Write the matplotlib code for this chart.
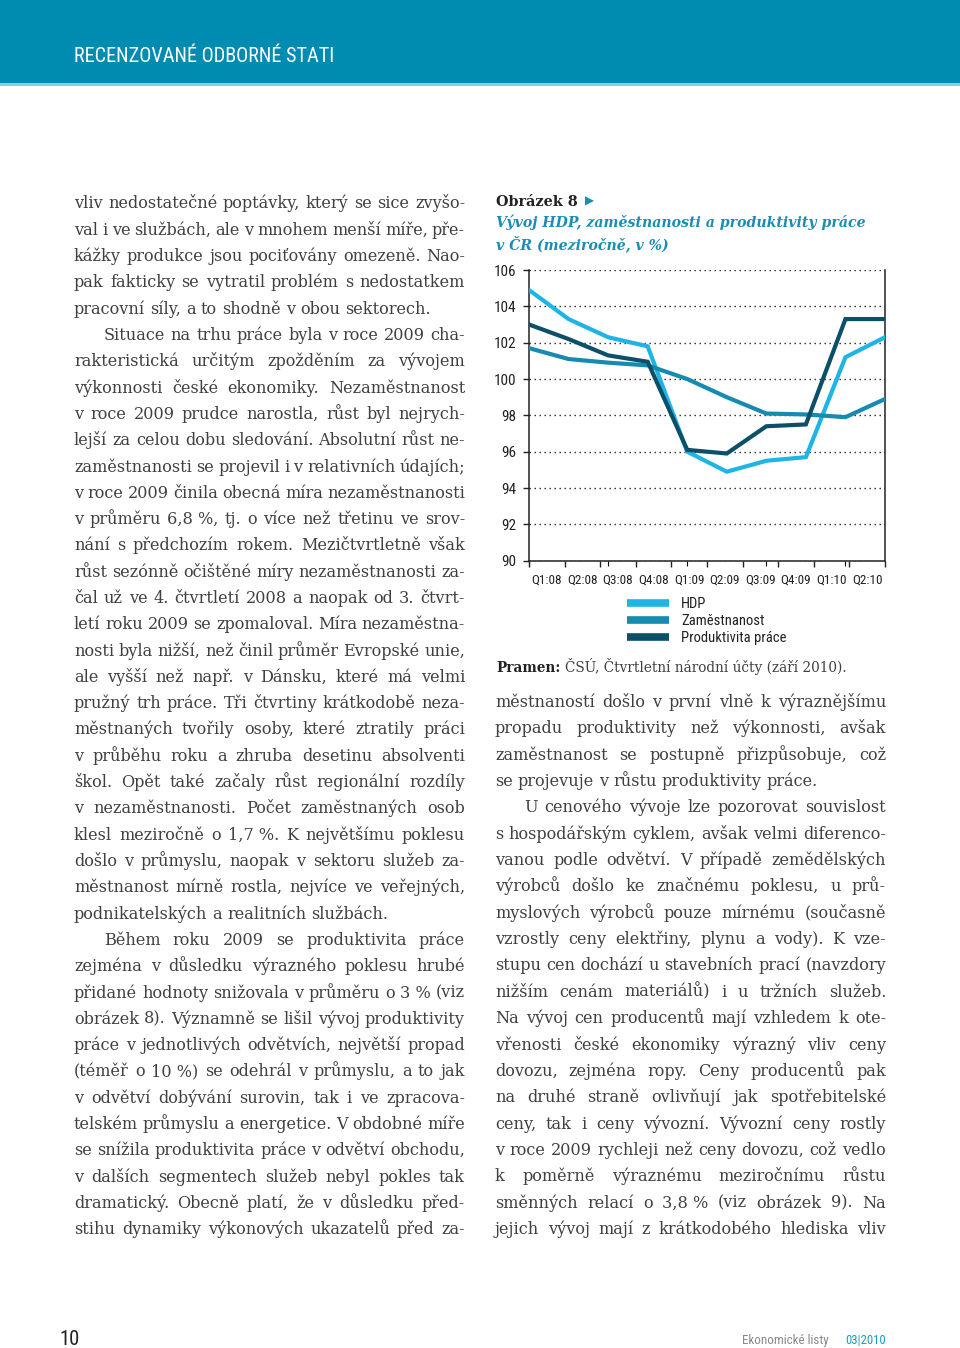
import matplotlib
matplotlib.use("Agg")
import matplotlib.pyplot as plt
import numpy as np
from matplotlib.patches import Rectangle
from matplotlib import font_manager as fm

# ---------------- data ----------------
quarters = ['Q1:08', 'Q2:08', 'Q3:08', 'Q4:08', 'Q1:09', 'Q2:09',
            'Q3:09', 'Q4:09', 'Q1:10', 'Q2:10']
hdp = [104.9, 103.3, 102.3, 101.8, 96.0, 94.9, 95.5, 95.7, 101.2, 102.3]
zamestnanost = [101.7, 101.1, 100.9, 100.75, 100.0, 99.0, 98.1, 98.05, 97.9, 98.9]
produktivita = [103.0, 102.2, 101.3, 100.95, 96.1, 95.9, 97.4, 97.5, 103.3, 103.3]
series_names = ['HDP', 'Zaměstnanost', 'Produktivita práce']
y_ticks = [90, 92, 94, 96, 98, 100, 102, 104, 106]

left_lines = [
    ("vliv nedostatečné poptávky, který se sice zvyšo-", True, 0),
    ("val i ve službách, ale v mnohem menší míře, pře-", True, 0),
    ("kážky produkce jsou pociťovány omezeně. Nao-", True, 0),
    ("pak fakticky se vytratil problém s nedostatkem", True, 0),
    ("pracovní síly, a to shodně v obou sektorech.", False, 0),
    ("Situace na trhu práce byla v roce 2009 cha-", True, 30),
    ("rakteristická určitým zpožděním za vývojem", True, 0),
    ("výkonnosti české ekonomiky. Nezaměstnanost", True, 0),
    ("v roce 2009 prudce narostla, růst byl nejrych-", True, 0),
    ("lejší za celou dobu sledování. Absolutní růst ne-", True, 0),
    ("zaměstnanosti se projevil i v relativních údajích;", True, 0),
    ("v roce 2009 činila obecná míra nezaměstnanosti", True, 0),
    ("v průměru 6,8\u00a0%, tj. o více než třetinu ve srov-", True, 0),
    ("nání s předchozím rokem. Mezičtvrtletně však", True, 0),
    ("růst sezónně očištěné míry nezaměstnanosti za-", True, 0),
    ("čal už ve 4. čtvrtletí 2008 a naopak od 3. čtvrt-", True, 0),
    ("letí roku 2009 se zpomaloval. Míra nezaměstna-", True, 0),
    ("nosti byla nižší, než činil průměr Evropské unie,", True, 0),
    ("ale vyšší než např. v Dánsku, které má velmi", True, 0),
    ("pružný trh práce. Tři čtvrtiny krátkodobě neza-", True, 0),
    ("městnaných tvořily osoby, které ztratily práci", True, 0),
    ("v průběhu roku a zhruba desetinu absolventi", True, 0),
    ("škol. Opět také začaly růst regionální rozdíly", True, 0),
    ("v nezaměstnanosti. Počet zaměstnaných osob", True, 0),
    ("klesl meziročně o 1,7\u00a0%. K největšímu poklesu", True, 0),
    ("došlo v průmyslu, naopak v sektoru služeb za-", True, 0),
    ("městnanost mírně rostla, nejvíce ve veřejných,", True, 0),
    ("podnikatelských a realitních službách.", False, 0),
    ("Během roku 2009 se produktivita práce", True, 30),
    ("zejména v důsledku výrazného poklesu hrubé", True, 0),
    ("přidané hodnoty snižovala v průměru o 3\u00a0% (viz", True, 0),
    ("obrázek 8). Významně se lišil vývoj produktivity", True, 0),
    ("práce v jednotlivých odvětvích, největší propad", True, 0),
    ("(téměř o 10\u00a0%) se odehrál v průmyslu, a to jak", True, 0),
    ("v odvětví dobývání surovin, tak i ve zpracova-", True, 0),
    ("telském průmyslu a energetice. V obdobné míře", True, 0),
    ("se snížila produktivita práce v odvětví obchodu,", True, 0),
    ("v dalších segmentech služeb nebyl pokles tak", True, 0),
    ("dramatický. Obecně platí, že v důsledku před-", True, 0),
    ("stihu dynamiky výkonových ukazatelů před za-", True, 0),
]

right_lines = [
    ("městnaností došlo v první vlně k výraznějšímu", True, 0),
    ("propadu produktivity než výkonnosti, avšak", True, 0),
    ("zaměstnanost se postupně přizpůsobuje, což", True, 0),
    ("se projevuje v růstu produktivity práce.", False, 0),
    ("U cenového vývoje lze pozorovat souvislost", True, 29),
    ("s hospodářským cyklem, avšak velmi diferenco-", True, 0),
    ("vanou podle odvětví. V případě zemědělských", True, 0),
    ("výrobců došlo ke značnému poklesu, u prů-", True, 0),
    ("myslových výrobců pouze mírnému (současně", True, 0),
    ("vzrostly ceny elektřiny, plynu a vody). K vze-", True, 0),
    ("stupu cen dochází u stavebních prací (navzdory", True, 0),
    ("nižším cenám materiálů) i u tržních služeb.", True, 0),
    ("Na vývoj cen producentů mají vzhledem k ote-", True, 0),
    ("vřenosti české ekonomiky výrazný vliv ceny", True, 0),
    ("dovozu, zejména ropy. Ceny producentů pak", True, 0),
    ("na druhé straně ovlivňují jak spotřebitelské", True, 0),
    ("ceny, tak i ceny vývozní. Vývozní ceny rostly", True, 0),
    ("v roce 2009 rychleji než ceny dovozu, což vedlo", True, 0),
    ("k poměrně výraznému meziročnímu růstu", True, 0),
    ("směnných relací o 3,8\u00a0% (viz obrázek 9). Na", True, 0),
    ("jejich vývoj mají z krátkodobého hlediska vliv", True, 0),
]

# ---------------- style ----------------
W, H = 960, 1348
try:
    fm.findfont(fm.FontProperties(family='Roboto Condensed'), fallback_to_default=False)
    NARROW = ['Roboto Condensed', 'DejaVu Sans']
    HAVE_COND = True
except Exception:
    NARROW = ['Roboto', 'DejaVu Sans']
    HAVE_COND = False
SERIF = ['DejaVu Serif']
BLUE = '#1a8db4'
C_HDP = '#1db4e6'
C_ZAM = '#168bb0'
C_PROD = '#0c4f68'
TXT = '#404040'
DARK = '#222222'

fig = plt.figure(figsize=(W / 100, H / 100), dpi=100)
fig.patch.set_facecolor('white')
renderer = fig.canvas.get_renderer()


def fx(px):
    return px / W


def fy(py):
    return 1 - py / H


def text_width(s, size, **kw):
    t = fig.text(0, 0, s, fontsize=size, **kw)
    w = t.get_window_extent(renderer).width
    t.remove()
    return w


def fit_size(s, width, **kw):
    return 10.0 * width / text_width(s, 10.0, **kw)


STRETCH = 1.0 if HAVE_COND else 1.15   # allow wider text when no condensed face

# header bar
fig.patches.append(Rectangle((0, fy(83)), 1, 83 / H, transform=fig.transFigure,
                             facecolor='#008bb0', edgecolor='none', zorder=0))
fig.patches.append(Rectangle((0, fy(86)), 1, 3 / H, transform=fig.transFigure,
                             facecolor='#86cfdf', edgecolor='none', zorder=0))
hdr = 'RECENZOVANÉ ODBORNÉ STATI'
hkw = dict(family=NARROW)
fig.text(fx(74), fy(62), hdr, fontsize=fit_size(hdr, 261 * STRETCH, **hkw),
         color='white', va='baseline', ha='left', **hkw)

# ---------- body text (justified) ----------
BODY_BASE = 10.0
space_w = text_width('a a', BODY_BASE, family=SERIF) - text_width('aa', BODY_BASE, family=SERIF)
nat = []
for t, j, ind in left_lines + right_lines:
    if j:
        ws = t.split(' ')
        nat.append((sum(text_width(w, BODY_BASE, family=SERIF) for w in ws)
                    + 0.8 * space_w * (len(ws) - 1) + ind) / 391.0)
body_size = BODY_BASE / max(nat)


def draw_line(text, x0, x1, yb, justify, indent, **kw):
    words = text.split(' ')
    objs = [fig.text(0, 0, w, va='baseline', ha='left', **kw) for w in words]
    widths = [o.get_window_extent(renderer).width for o in objs]
    if justify and len(words) > 1:
        gap = (x1 - x0 - indent - sum(widths)) / (len(words) - 1)
    else:
        gap = space_w * body_size / BODY_BASE
    x = x0 + indent
    for o, w in zip(objs, widths):
        o.set_position((fx(x), fy(yb)))
        x += w + gap


body_kw = dict(family=SERIF, fontsize=body_size, color=TXT)
for i, (t, j, ind) in enumerate(left_lines):
    draw_line(t, 74, 465, 208.5 + i * 26.3, j, ind, **body_kw)
for i, (t, j, ind) in enumerate(right_lines):
    draw_line(t, 495, 886, 707 + i * 26.35, j, ind, **body_kw)

# ---------- figure caption ----------
ckw = dict(family=SERIF, fontweight='bold')
fig.text(fx(496), fy(206), 'Obrázek 8', fontsize=fit_size('Obrázek 8', 82, **ckw),
         color=DARK, va='baseline', **ckw)
fig.text(fx(585), fy(205), '\u25B6', family=['DejaVu Sans'], fontsize=8.5,
         color=BLUE, va='baseline')
sub1 = 'Vývoj HDP, zaměstnanosti a produktivity práce'
skw = dict(family=SERIF, style='italic', fontweight='bold')
sub_size = fit_size(sub1, 370, **skw)
fig.text(fx(496), fy(227), sub1, fontsize=sub_size, color=BLUE, va='baseline', **skw)
fig.text(fx(496), fy(249), 'v ČR (meziročně, v %)', fontsize=sub_size,
         color=BLUE, va='baseline', **skw)

# ---------- source ----------
src_rest = 'ČSÚ, Čtvrtletní národní účty (září 2010).'
src_size = fit_size('Pramen: ' + src_rest, 343, family=SERIF)
src1 = fig.text(fx(496), fy(672), 'Pramen:', family=SERIF, fontsize=src_size,
                fontweight='bold', color=DARK, va='baseline')
wsrc = src1.get_window_extent(renderer).width
fig.text(fx(496 + wsrc + 5), fy(672), src_rest,
         family=SERIF, fontsize=src_size, color=TXT, va='baseline')

# ---------- footer ----------
fig.text(fx(59), fy(1345), '10', family=NARROW,
         fontsize=fit_size('10', 20 * STRETCH, family=NARROW),
         color=DARK, va='baseline')
fkw = dict(family=NARROW)
fig.text(fx(886), fy(1344), '03|2010', fontsize=fit_size('03|2010', 40 * STRETCH, **fkw),
         color='#1a9cc0', va='baseline', ha='right', **fkw)
fig.text(fx(886 - 40 * STRETCH - 17), fy(1344), 'Ekonomické listy',
         fontsize=fit_size('Ekonomické listy', 86 * STRETCH, **fkw),
         color='#8a8a8a', va='baseline', ha='right', **fkw)

# ---------------- chart ----------------
ax_l, ax_r, ax_t, ax_b = 529, 885, 270, 560.7
ax = fig.add_axes([fx(ax_l), fy(ax_b), (ax_r - ax_l) / W, (ax_b - ax_t) / H])
x = np.arange(len(quarters))
for vals, col in zip([hdp, zamestnanost, produktivita], [C_HDP, C_ZAM, C_PROD]):
    ax.plot(x, vals, color=col, lw=3.0, solid_joinstyle='miter', zorder=3)
ax.set_xlim(0, len(quarters) - 1)
ax.set_ylim(90, 106)
ax.set_yticks(y_ticks)
ax.set_yticklabels([str(v) for v in y_ticks], family=NARROW,
                   fontsize=11 if HAVE_COND else 9.5, color=DARK)
ax.tick_params(axis='y', length=4, width=1, pad=5, direction='out', color=DARK)
ax.tick_params(axis='x', bottom=False, labelbottom=False)
ax.yaxis.grid(True, linestyle=(0, (1, 2.6)), color=DARK, linewidth=1.0)
ax.set_axisbelow(True)
ax.spines['top'].set_visible(False)
for s in ['left', 'bottom', 'right']:
    ax.spines[s].set_color(DARK)
    ax.spines[s].set_linewidth(1.1)
ax.patch.set_alpha(0)

ax2 = ax.twiny()
ax2.set_xlim(0, len(quarters))
ax2.xaxis.set_ticks_position('bottom')
ax2.xaxis.set_label_position('bottom')
ax2.set_xticks(np.arange(len(quarters) + 1))
ax2.set_xticklabels([])
ax2.set_xticks(np.arange(len(quarters)) + 0.5, minor=True)
ax2.set_xticklabels(quarters, minor=True, family=NARROW,
                    fontsize=9.5 if HAVE_COND else 8.3, color=DARK)
ax2.tick_params(axis='x', which='major', length=4, width=1, direction='out',
                color=DARK)
ax2.tick_params(axis='x', which='minor', length=0, pad=9)
for s in ax2.spines.values():
    s.set_visible(False)

leg_size = 10.5 if HAVE_COND else 9.2
em = leg_size * 100 / 72
leg = ax.legend(ax.get_lines(), series_names, loc='upper left',
                bbox_to_anchor=(fx(627), fy(597)), bbox_transform=fig.transFigure,
                frameon=False, borderpad=0, borderaxespad=0,
                handlelength=42 / em, handletextpad=12 / em,
                labelspacing=0.2,
                prop={'family': NARROW, 'size': leg_size})
for ln in leg.get_lines():
    ln.set_linewidth(5.5)
    ln.set_solid_capstyle('butt')
for tx in leg.get_texts():
    tx.set_color(DARK)

fig.savefig('out.png', dpi=100)
